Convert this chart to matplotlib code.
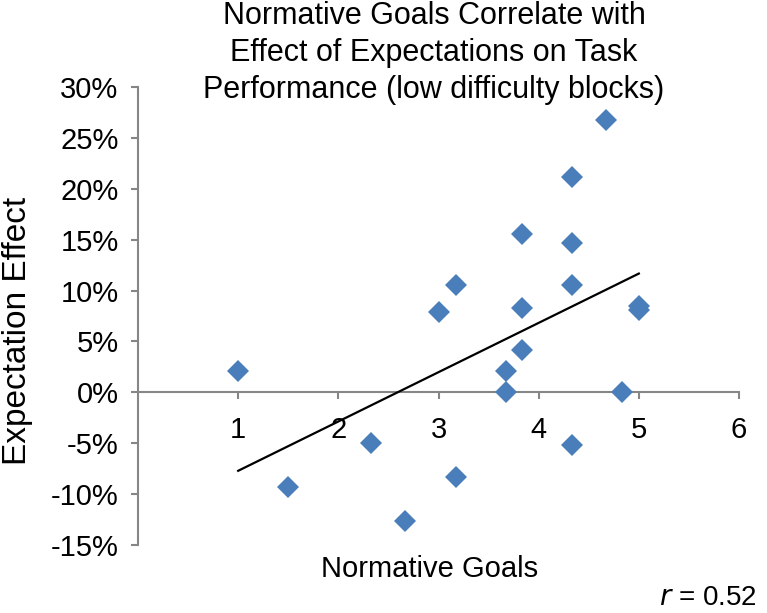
import numpy as np
import matplotlib
matplotlib.use("Agg")
import matplotlib.pyplot as plt
from matplotlib.ticker import FuncFormatter

plt.rcParams['font.family'] = ['Liberation Sans', 'DejaVu Sans']

normative_goals = [1.0, 1.5, 2.33, 2.67, 3.0, 3.17, 3.17, 3.67, 3.67, 3.83, 3.83, 3.83,
                   4.33, 4.33, 4.33, 4.33, 4.67, 4.83, 5.0, 5.0]
expectation_effect = [2.1, -9.3, -5.0, -12.6, 7.9, 10.5, -8.3, 2.1, 0.0, 15.6, 8.3, 4.2,
                      21.2, 14.7, 10.5, -5.2, 26.8, 0.0, 8.5, 8.1]
y_ticks = [-15, -10, -5, 0, 5, 10, 15, 20, 25, 30]
x_ticks = [1, 2, 3, 4, 5, 6]
r_value = "0.52"

W, H = 767, 613
fig = plt.figure(figsize=(W / 100, H / 100), dpi=100)
ax = fig.add_axes([138 / W, 1 - 545 / H, (739 - 138) / W, (545 - 87) / H])

gray = '#868686'
blue = '#4a7ebb'

x = np.array(normative_goals)
y = np.array(expectation_effect)
ax.plot(x, y, linestyle='none', marker='D', markersize=11.5, color=blue,
        markeredgewidth=0, zorder=3)

m, b = np.polyfit(x, y, 1)
xs = np.array([x.min(), x.max()])
ax.plot(xs, m * xs + b, color='black', linewidth=1.6, zorder=4)

ax.set_xlim(0, 6)
ax.set_ylim(-15, 30)
ax.set_yticks(y_ticks)
ax.set_xticks(x_ticks)
ax.yaxis.set_major_formatter(FuncFormatter(lambda v, p: f"{int(round(v))}%"))

for s in ['top', 'right']:
    ax.spines[s].set_visible(False)
ax.spines['bottom'].set_position(('data', 0))
for s in ['left', 'bottom']:
    ax.spines[s].set_color(gray)
    ax.spines[s].set_linewidth(1.5)

ax.tick_params(axis='y', direction='out', length=5, width=1.5, color=gray,
               labelsize=21, pad=9)
ax.tick_params(axis='x', direction='out', length=5, width=1.5, color=gray,
               labelsize=21, pad=12)

fig.text(434 / W, 1 - 1 / H,
         "Normative Goals Correlate with\nEffect of Expectations on Task\nPerformance (low difficulty blocks)",
         ha='center', va='top', fontsize=22, linespacing=1.3)
fig.text(430 / W, 1 - 569 / H, "Normative Goals", ha='center', va='center', fontsize=21)
fig.text(18 / W, 1 - 331 / H, "Expectation Effect", ha='center', va='center',
         rotation=90, fontsize=24)
fig.text(757 / W, 1 - 598 / H, r"$\it{r}$ = " + r_value, ha='right', va='center', fontsize=20)

fig.savefig("out.png", dpi=100)
